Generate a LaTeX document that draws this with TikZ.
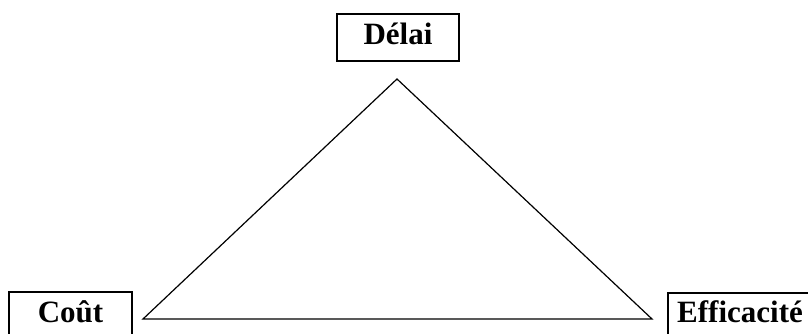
\documentclass[tikz,border=0pt]{standalone}
\usepackage{fontspec}
\setmainfont{Liberation Serif}
\begin{document}
\begin{tikzpicture}[x=1pt,y=1pt,
  lbl/.style={draw, line width=1.2pt, inner sep=0pt, font=\fontsize{31}{36}\selectfont\bfseries, align=center, anchor=base},
  tri/.style={line width=1.2pt, line join=miter}]
\useasboundingbox (0,0) rectangle (808,-334);
\node[lbl, text width=122pt, text height=31pt, text depth=16pt] (delai) at (398,-45) {Délai};
\node[lbl, text width=123pt, text height=30pt, text depth=17pt] (cout) at (70.5,-322) {Coût};
\node[lbl, text width=144pt, text height=29pt, text depth=17pt] (eff) at (740,-322) {Efficacité};
\coordinate (top) at (397,-79);
\coordinate (bl) at (143,-319);
\coordinate (br) at (652,-319);
\draw[tri] (top) -- (bl) -- (br) -- cycle;
\end{tikzpicture}
\end{document}
